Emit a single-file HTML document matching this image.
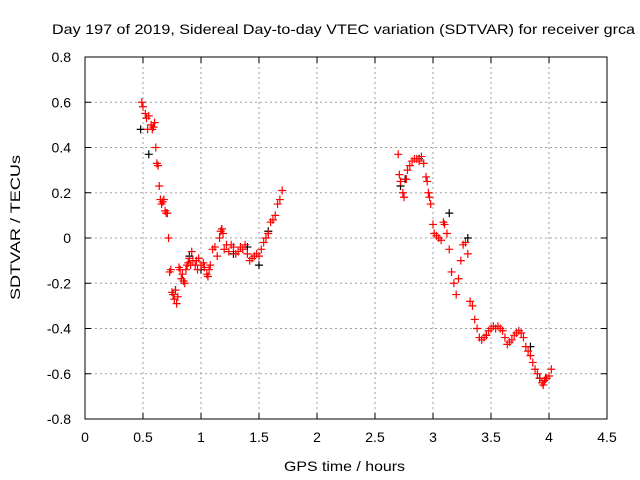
<!DOCTYPE html>
<html><head><meta charset="utf-8"><style>
body{margin:0;background:#fff;}
svg{display:block;font-family:"Liberation Sans",sans-serif;}
</style></head><body>
<svg id="chart" width="640" height="480">
<text x="52" y="34" font-size="14" textLength="583" lengthAdjust="spacingAndGlyphs">Day 197 of 2019, Sidereal Day-to-day VTEC variation (SDTVAR) for receiver grca</text>
<g id="grid"></g><g id="axes"></g><g id="marks"></g>
<text x="284" y="471" font-size="14" textLength="121" lengthAdjust="spacingAndGlyphs">GPS time / hours</text>
<text transform="translate(20,300) rotate(-90)" font-size="14" textLength="145" lengthAdjust="spacingAndGlyphs">SDTVAR / TECUs</text>
</svg>
<script>
const xTicks=[0,0.5,1,1.5,2,2.5,3,3.5,4,4.5];
const xTickLabels=["0","0.5","1","1.5","2","2.5","3","3.5","4","4.5"];
const yTicks=[-0.8,-0.6,-0.4,-0.2,0,0.2,0.4,0.6,0.8];
const yTickLabels=["-0.8","-0.6","-0.4","-0.2","0","0.2","0.4","0.6","0.8"];
const redX=[0.49,0.50,0.52,0.53,0.54,0.55,0.57,0.58,0.59,0.60,0.61,0.62,0.63,0.64,0.65,0.66,0.67,0.68,0.69,0.70,0.71,0.72,0.73,0.74,0.75,0.76,0.77,0.78,0.79,0.80,0.81,0.82,0.83,0.84,0.85,0.86,0.87,0.88,0.89,0.90,0.91,0.92,0.93,0.95,0.96,0.97,0.98,1.00,1.02,1.03,1.05,1.06,1.07,1.08,1.10,1.12,1.14,1.16,1.17,1.18,1.19,1.20,1.22,1.24,1.26,1.28,1.30,1.32,1.34,1.36,1.38,1.40,1.42,1.44,1.46,1.48,1.50,1.52,1.54,1.56,1.58,1.60,1.62,1.64,1.66,1.68,1.70,
2.70,2.71,2.72,2.74,2.75,2.77,2.78,2.80,2.82,2.84,2.86,2.88,2.90,2.92,2.94,2.95,2.96,2.97,2.98,3.00,3.01,3.03,3.05,3.07,3.09,3.10,3.12,3.14,3.16,3.18,3.20,3.22,3.24,3.26,3.28,3.30,3.32,3.34,3.36,3.38,3.40,3.42,3.44,3.46,3.48,3.50,3.52,3.54,3.56,3.58,3.60,3.62,3.64,3.66,3.68,3.70,3.72,3.74,3.76,3.78,3.80,3.82,3.84,3.86,3.88,3.90,3.92,3.94,3.95,3.96,3.97,3.98,4.00,4.02];
const redY=[0.60,0.58,0.55,0.53,0.48,0.54,0.50,0.48,0.49,0.51,0.40,0.33,0.32,0.23,0.17,0.15,0.16,0.17,0.12,0.11,0.11,0.00,-0.15,-0.14,-0.24,-0.25,-0.27,-0.23,-0.29,-0.26,-0.13,-0.14,-0.18,-0.16,-0.19,-0.20,-0.14,-0.12,-0.11,-0.09,-0.12,-0.06,-0.10,-0.12,-0.10,-0.14,-0.09,-0.12,-0.11,-0.13,-0.16,-0.17,-0.14,-0.12,-0.05,-0.04,-0.08,0.00,0.03,0.04,0.02,-0.05,-0.03,-0.06,-0.03,-0.04,-0.07,-0.06,-0.04,-0.05,-0.03,-0.07,-0.10,-0.09,-0.08,-0.07,-0.08,-0.05,-0.02,0.00,0.02,0.07,0.08,0.10,0.15,0.17,0.21,
0.37,0.28,0.25,0.20,0.18,0.26,0.30,0.32,0.34,0.35,0.35,0.34,0.36,0.33,0.27,0.25,0.20,0.18,0.15,0.06,0.02,0.01,0.00,-0.01,0.07,0.06,0.02,-0.05,-0.15,-0.20,-0.25,-0.18,-0.10,-0.03,-0.02,-0.07,-0.28,-0.30,-0.36,-0.40,-0.44,-0.45,-0.44,-0.43,-0.41,-0.40,-0.39,-0.40,-0.39,-0.40,-0.41,-0.44,-0.47,-0.46,-0.45,-0.43,-0.42,-0.41,-0.42,-0.44,-0.48,-0.50,-0.52,-0.55,-0.58,-0.60,-0.62,-0.64,-0.65,-0.63,-0.62,-0.62,-0.61,-0.58];
const blackX=[0.48,0.55,0.78,0.90,1.00,1.18,1.28,1.40,1.50,1.58,2.72,2.76,2.88,3.14,3.30,3.46,3.84,3.92];
const blackY=[0.48,0.37,-0.23,-0.08,-0.14,0.04,-0.07,-0.04,-0.12,0.03,0.23,0.26,0.35,0.11,0.00,-0.43,-0.48,-0.62];

const X0=85,X1=607,Y0=419,Y1=57;
const sx=v=>X0+(v-0)/(4.5-0)*(X1-X0);
const sy=v=>Y0-(v+0.8)/1.6*(Y0-Y1);
const NS="http://www.w3.org/2000/svg";
function mk(tag,attrs,parent){const e=document.createElementNS(NS,tag);for(const k in attrs)e.setAttribute(k,attrs[k]);parent.appendChild(e);return e;}
const grid=document.getElementById('grid'),axes=document.getElementById('axes'),marks=document.getElementById('marks');
xTicks.forEach((t,i)=>{const x=sx(t);
 if(i>0&&i<xTicks.length-1){const g=mk('line',{x1:x,x2:x,y1:Y1,y2:Y0,stroke:'#a0a0a0','stroke-dasharray':'2,3'},grid);}
 mk('line',{x1:x,x2:x,y1:Y0,y2:Y0-6,stroke:'#000'},axes);mk('line',{x1:x,x2:x,y1:Y1,y2:Y1+6,stroke:'#000'},axes);
 const tx=mk('text',{x:x,y:Y0+23,'font-size':14,'text-anchor':'middle'},axes);tx.textContent=xTickLabels[i];
 });
yTicks.forEach((t,i)=>{const y=sy(t);
 if(i>0&&i<yTicks.length-1){const g=mk('line',{x1:X0,x2:X1,y1:y,y2:y,stroke:'#a0a0a0','stroke-dasharray':'2,3'},grid);}
 mk('line',{x1:X0,x2:X0+6,y1:y,y2:y,stroke:'#000'},axes);mk('line',{x1:X1,x2:X1-6,y1:y,y2:y,stroke:'#000'},axes);
 const tx=mk('text',{x:X0-14,y:y+5,'font-size':14,'text-anchor':'end'},axes);tx.textContent=yTickLabels[i];
 });
const fr=mk('rect',{x:X0,y:Y1,width:X1-X0,height:Y0-Y1,fill:'none',stroke:'#000'},axes);

function plus(x,y,c,name){const p=mk('path',{d:`M${x-4},${y}h8M${x},${y-4}v8`,stroke:c,'stroke-width':1.2,fill:'none'},marks);
 }
blackX.forEach((v,i)=>plus(sx(v),sy(blackY[i]),'#000','black-point'));
redX.forEach((v,i)=>plus(sx(v),sy(redY[i]),'#f00','red-point'));
</script>
</body></html>
